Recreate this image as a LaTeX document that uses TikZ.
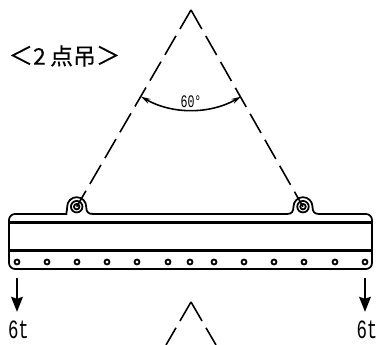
\documentclass[tikz,border=0pt]{standalone}
\usepackage{fontspec}
\newfontfamily\cjk[FakeBold=0.3]{Noto Sans CJK JP}
\newfontfamily\narrow{Liberation Mono}
\usetikzlibrary{arrows.meta}
\tikzset{
  sling/.style={line width=0.9pt,dash pattern=on 12.5pt off 4.5pt},
  outline/.style={line width=1pt,line join=round},
  heavy/.style={line width=1.7pt},
  hole/.style={line width=1pt,fill=white},
  load/.style={line width=1.7pt,-{Stealth[length=8.5pt,width=6.5pt,inset=1pt]}},
  angle/.style={line width=0.9pt,{Stealth[length=5.5pt,width=3pt]}-{Stealth[length=5.5pt,width=3pt]}},
  tons/.style={font=\narrow\fontsize{15}{16}\selectfont,xscale=0.66,inner sep=0pt},
  degree/.style={font=\narrow\fontsize{10}{11}\selectfont,xscale=0.66,inner sep=0pt}
}
\begin{document}
\begin{tikzpicture}
	\useasboundingbox (0,0) rectangle (7.52,6.9);

	\coordinate (apex) at (3.82,6.7);
	\coordinate (lowapex) at (3.82,0.86);
	\coordinate (lowl) at (3.32,0);
	\coordinate (lowr) at (4.32,0);
	\coordinate (lugl) at (1.534,2.766);
	\coordinate (lugr) at (6.06,2.766);

	% sling lines
	\draw[sling] (apex) to (lugl);
	\draw[sling] (apex) to (lugr);
	\draw[sling] (lowapex) to (lowl);
	\draw[sling] (lowapex) to (lowr);

	% beam
	\draw[outline] (1.214,2.62)
		.. controls (1.31,2.62) and (1.344,2.67) .. (1.344,2.766) arc (180:0:0.19)
		.. controls (1.724,2.67) and (1.758,2.62) .. (1.854,2.62) -- (5.74,2.62)
		.. controls (5.836,2.62) and (5.87,2.67) .. (5.87,2.766) arc (180:0:0.19)
		.. controls (6.25,2.67) and (6.284,2.62) .. (6.38,2.62)
		[rounded corners=0.12cm] -- (7.44,2.62) -- (7.44,1.52) -- (0.18,1.52) -- (0.18,2.62) -- cycle;
	\draw[heavy] (0.18,2.446) to (7.44,2.446);
	\draw[heavy] (0.18,1.88) to (7.44,1.88);
	\foreach \c in {lugl,lugr} {
		\draw[outline] (\c) circle (0.115);
		\draw[outline] (\c) circle (0.055);
	}
	\foreach \x in {0.34,0.94,1.54,2.14,2.74,3.36,3.8,4.28,4.88,5.48,6.08,6.7,7.3} {
		\draw[hole] (\x,1.66) circle (0.05);
	}

	% loads
	\coordinate (loadla) at (0.34,1.34);
	\coordinate (loadlb) at (0.34,0.66);
	\coordinate (loadra) at (7.3,1.34);
	\coordinate (loadrb) at (7.3,0.66);
	\draw[load] (loadla) to (loadlb);
	\draw[load] (loadra) to (loadrb);
	\node[tons] (tonl) at (0.37,0.3) {6t};
	\node[tons] (tonr) at (7.34,0.3) {6t};

	% angle
	\draw[angle] (2.82,4.968) arc (240:300:2);
	\node[degree] (deg) at (3.82,4.86) {60°};

	\node[font=\cjk\fontsize{13}{14}\selectfont,inner sep=0pt] (title) at (1.29,5.78)
		{{\fontsize{14}{16}\selectfont ＜}2\hspace{2.5pt}点吊{\fontsize{14}{16}\selectfont ＞}};
\end{tikzpicture}
\end{document}
